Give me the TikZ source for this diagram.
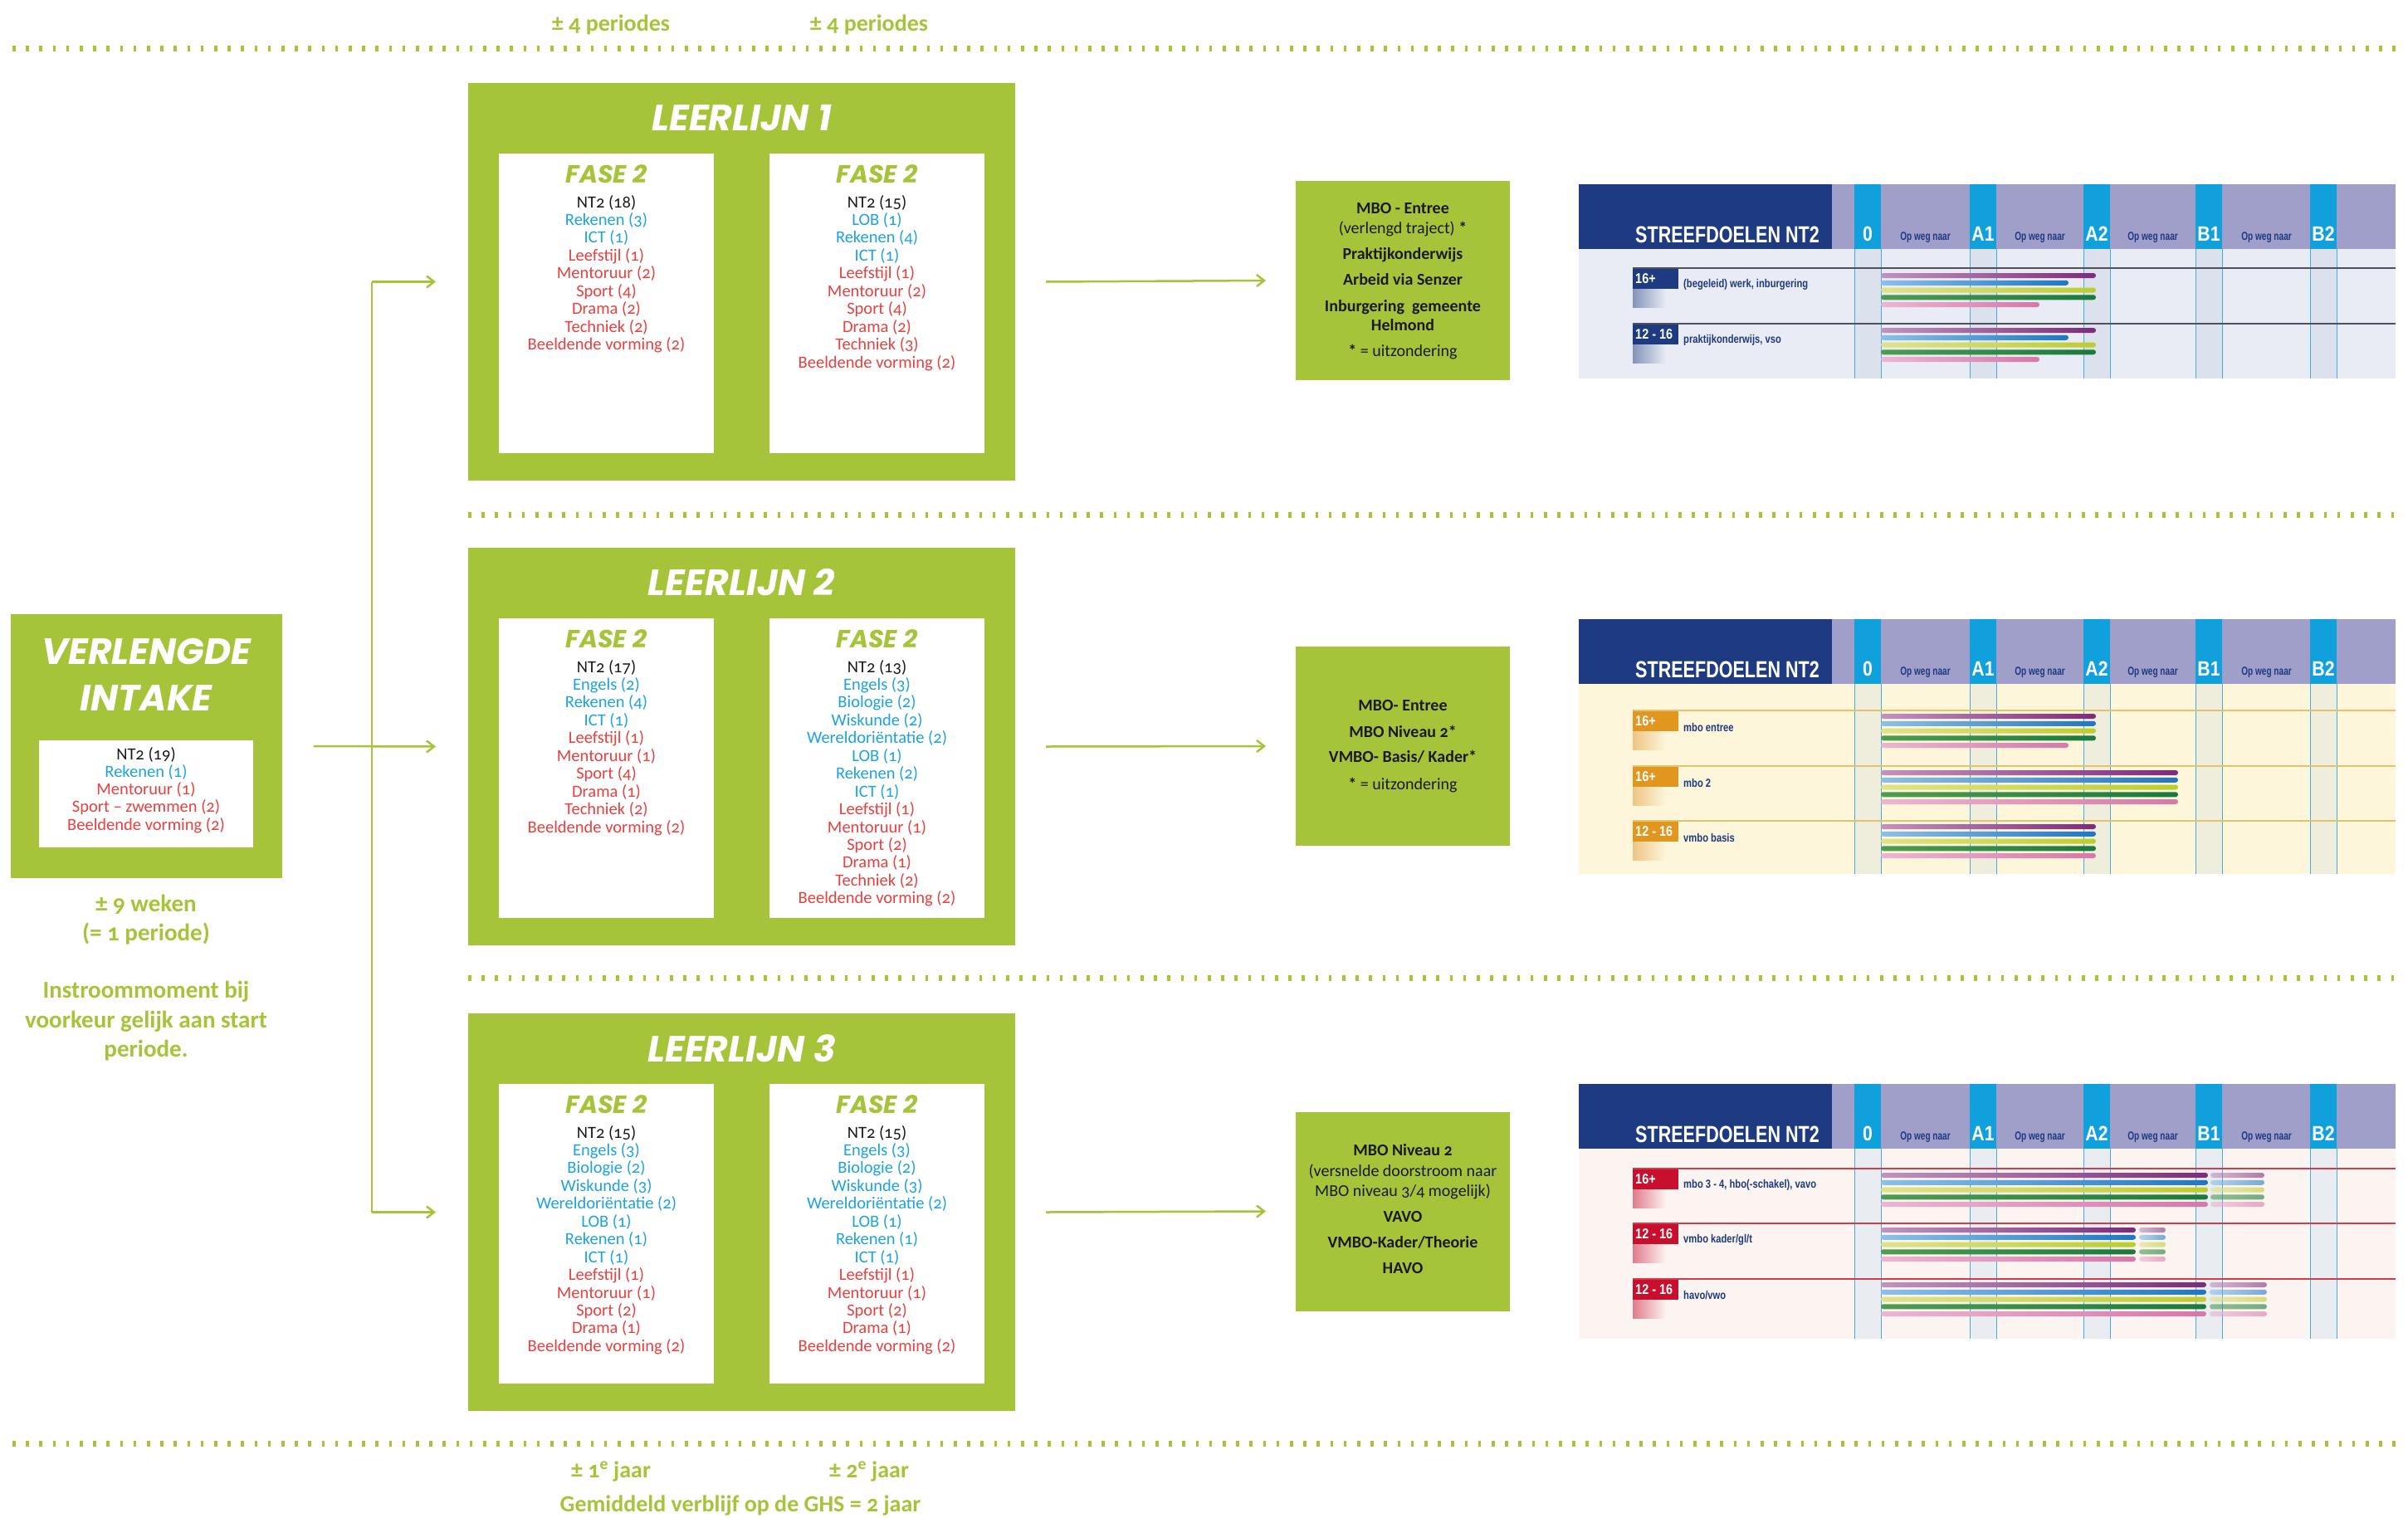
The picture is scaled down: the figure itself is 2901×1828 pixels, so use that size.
\documentclass[tikz,border=0pt]{standalone}
\usepackage{fontspec}
\usepackage{graphicx}
\setmainfont{Carlito}[Numbers=OldStyle]
\newfontfamily\titlefont{Poppins}
\newfontfamily\chartfont{Liberation Sans}
\usetikzlibrary{arrows.meta}
\definecolor{lgreen}{HTML}{A6C43A}
\definecolor{tblue}{HTML}{1DA3E0}
\definecolor{tred}{HTML}{E8413F}
\definecolor{tblack}{HTML}{1A1A1A}
\definecolor{navy}{HTML}{1E3A80}
\definecolor{lav}{HTML}{A09FCA}
\definecolor{sblue}{HTML}{10A0DC}
\definecolor{sline}{HTML}{4AAAD9}
\definecolor{body1}{HTML}{E9ECF4}
\definecolor{sb1}{HTML}{DCE2ED}
\definecolor{body2}{HTML}{FDF6DB}
\definecolor{sb2}{HTML}{EFEEDC}
\definecolor{body3}{HTML}{FCF4F0}
\definecolor{sb3}{HTML}{E9ECF0}
\definecolor{tag2}{HTML}{E0961F}
\definecolor{tag3}{HTML}{C8102E}
\definecolor{rl1}{HTML}{50505C}
\definecolor{rl2}{HTML}{E3C46E}
\definecolor{rl3}{HTML}{CF3C4A}
\definecolor{pAa}{HTML}{C193BE}\definecolor{pAb}{HTML}{7D2B7A}
\definecolor{pBa}{HTML}{8CC0E8}\definecolor{pBb}{HTML}{1F77C0}
\definecolor{pCa}{HTML}{E0E38A}\definecolor{pCb}{HTML}{BCCD2D}
\definecolor{pDa}{HTML}{4F9C50}\definecolor{pDb}{HTML}{1A7A3A}
\definecolor{pEa}{HTML}{EDB5D2}\definecolor{pEb}{HTML}{D678AA}
\newcommand\cond[2]{\scalebox{#1}[1]{#2}}
\newcommand\mklist[4]{%
  \foreach \c/\t [count=\i from 0] in {#4}{%
    \node[litem, text=\c] (#1-\i) at (#2, #3+21.45*\i) {\t};}}
\newcommand\oline[3]{\node[otext] (#1) at (1690,#2+6) {#3};}
\newcommand\chartframe[5]{%
  \node[fill=#4, inner sep=0, outer sep=0, minimum width=984pt, minimum height=#3pt, anchor=north west] (#1) at (1902,#2) {};
  \begin{scope}[shift={(1902,#2)}]
    \fill[lav] (305,0) rectangle (984,78);
    \fill[navy] (0,0) rectangle (305,78);
    \node[hdrtext] (#1-title) at (179,61) {\cond{0.77}{STREEFDOELEN NT2}};
    \foreach \sx/\lab [count=\k] in {332/0,471/A1,608/A2,743/B1,881/B2}{%
      \fill[sblue] (\sx,0) rectangle (\sx+32,78);
      \fill[#5] (\sx,78) rectangle (\sx+32,#3);
      \draw[sline] (\sx,78) -- (\sx,#3) (\sx+32,78) -- (\sx+32,#3);
      \node[stripelab] (#1-s\k) at (\sx+16,60) {\cond{0.85}{\lab}};}
    \foreach \ox [count=\k] in {417.5,555.5,691.5,828.5}{%
      \node[opweg] (#1-o\k) at (\ox,64) {\cond{0.72}{Op weg naar}};}
  \end{scope}}
\newcommand\chartrow[8]{%
  \begin{scope}[shift={(1902,#2)}]
    \draw[#5, line width=2.5pt] (65,#3) -- (984,#3);
    \shade[left color=#4!55, right color=#8] (65,#3+25) rectangle (105,#3+47);
    \node[fill=#4, inner sep=0, outer sep=0, minimum width=55pt, minimum height=24pt, anchor=north west] (#1) at (65,#3+1) {};
    \node[tagtext] (#1-t) at (68,#3+13) {\cond{0.85}{#6}};
    \node[rowlab] (#1-l) at (126,#3+20) {\cond{0.8}{#7}};
  \end{scope}}
\newcommand\barset[7]{%
  \begin{scope}[shift={(1902,#1)}]
    \shade[barA] (364,#2-3) rectangle (#3,#2+3);
    \shade[barB] (364,#2+5.75) rectangle (#4,#2+11.75);
    \shade[barC] (364,#2+14.5) rectangle (#5,#2+20.5);
    \shade[barD] (364,#2+23.25) rectangle (#6,#2+29.25);
    \shade[barE] (364,#2+32) rectangle (#7,#2+38);
  \end{scope}}
\newcommand\barsettwo[5]{%
  \barset{#1}{#2}{#3}{#3}{#3}{#3}{#3}
  \begin{scope}[shift={(1902,#1)}, opacity=0.6]
    \shade[barA] (#4,#2-3) rectangle (#5,#2+3);
    \shade[barB] (#4,#2+5.75) rectangle (#5,#2+11.75);
    \shade[barC] (#4,#2+14.5) rectangle (#5,#2+20.5);
    \shade[barD] (#4,#2+23.25) rectangle (#5,#2+29.25);
    \shade[barE] (#4,#2+32) rectangle (#5,#2+38);
  \end{scope}}
\begin{document}
\begin{tikzpicture}[x=1pt,y=-1pt,
  lbox/.style={fill=lgreen, minimum width=659pt, minimum height=479pt, inner sep=0, outer sep=0},
  wbox/.style={fill=white, minimum width=259pt, minimum height=361pt, inner sep=0, outer sep=0},
  obox/.style={fill=lgreen, minimum width=258pt, minimum height=240pt, inner sep=0, outer sep=0},
  ltitle/.style={font=\titlefont\bfseries\itshape\fontsize{44}{44}\selectfont, text=white, inner sep=0},
  ftitle/.style={font=\titlefont\bfseries\itshape\fontsize{30}{30}\selectfont, text=lgreen, inner sep=0},
  litem/.style={font=\fontsize{20.5}{21}\selectfont, inner sep=0, anchor=base},
  otext/.style={font=\bfseries\fontsize{20}{20}\selectfont, text=tblack, inner sep=0, anchor=base},
  gtext/.style={font=\bfseries\fontsize{29}{29}\selectfont, text=lgreen, inner sep=0, anchor=base},
  ltext/.style={font=\bfseries\fontsize{28}{28}\selectfont, text=lgreen, inner sep=0, anchor=base},
  hdrtext/.style={font=\chartfont\bfseries\fontsize{28}{28}\selectfont, text=white, inner sep=0},
  stripelab/.style={font=\chartfont\bfseries\fontsize{25}{25}\selectfont, text=white, inner sep=0},
  opweg/.style={font=\chartfont\bfseries\fontsize{14}{14}\selectfont, text=navy, inner sep=0},
  tagtext/.style={font=\chartfont\bfseries\fontsize{17}{17}\selectfont, text=white, inner sep=0, anchor=west},
  rowlab/.style={font=\chartfont\bfseries\fontsize{14}{14}\selectfont, text=navy, inner sep=0, anchor=west},
  dotline/.style={draw=lgreen, line width=7pt, dash pattern=on 3.5pt off 12.7pt},
  conn/.style={draw=lgreen, line width=2.5pt},
  arr/.style={conn, -{Straight Barb[length=9pt, width=14pt, line width=2.5pt]}},
  barA/.style={left color=pAa, right color=pAb, rounded corners=3pt},
  barB/.style={left color=pBa, right color=pBb, rounded corners=3pt},
  barC/.style={left color=pCa, right color=pCb, rounded corners=3pt},
  barD/.style={left color=pDa, right color=pDb, rounded corners=3pt},
  barE/.style={left color=pEa, right color=pEb, rounded corners=3pt}]
\useasboundingbox (0,0) rectangle (2901,1828);
\fill[white] (0,0) rectangle (2901,1828);

% dotted separators
\draw[dotline] (15,59) -- (2886,59);
\draw[dotline] (564,620) -- (2886,620);
\draw[dotline] (564,1178) -- (2886,1178);
\draw[dotline] (15,1739) -- (2886,1739);

% top and bottom labels
\node[ltext] (p1) at (736,38) {± 4 periodes};
\node[ltext] (p2) at (1047,38) {± 4 periodes};
\node[ltext] (j1) at (736,1780) {± 1\textsuperscript{e} jaar};
\node[ltext] (j2) at (1047,1780) {± 2\textsuperscript{e} jaar};
\node[ltext] (gem) at (892,1821) {Gemiddeld verblijf op de GHS = 2 jaar};

% verlengde intake
\node[fill=lgreen, minimum width=327pt, minimum height=318pt, inner sep=0, outer sep=0] (intake) at (176,899) {};
\node[ltitle] (intt1) at (176,785) {VERLENGDE};
\node[ltitle] (intt2) at (176,841) {INTAKE};
\node[fill=white, minimum width=258pt, minimum height=129pt, inner sep=0, outer sep=0] (intakew) at (176,956.5) {};
\foreach \c/\t [count=\i from 0] in {tblack/NT2 (19), tblue/Rekenen (1), tred/Mentoruur (1), tred/Sport – zwemmen (2), tred/Beeldende vorming (2)}{%
  \node[litem, text=\c] (intl-\i) at (176, 915+21.3*\i) {\t};}
\node[gtext] (wk1) at (176,1098) {± 9 weken};
\node[gtext] (wk2) at (176,1133) {(= 1 periode)};
\node[gtext] (ins1) at (176,1202) {Instroommoment bij};
\node[gtext] (ins2) at (176,1238) {voorkeur gelijk aan start};
\node[gtext] (ins3) at (176,1273) {periode.};

% leerlijn 1
\node[lbox] (ll1) at (893.5,339.5) {};
\node[ltitle] (ll1t) at (893.5,142) {LEERLIJN 1};
\node[wbox] (ll1a) at (730.5,365.5) {};
\node[wbox] (ll1b) at (1056.5,365.5) {};
\node[ftitle] (ll1af) at (730.5,210) {FASE 2};
\node[ftitle] (ll1bf) at (1056.5,210) {FASE 2};
\mklist{ll1al}{730.5}{250}{tblack/NT2 (18), tblue/Rekenen (3), tblue/ICT (1), tred/Leefstijl (1), tred/Mentoruur (2), tred/Sport (4), tred/Drama (2), tred/Techniek (2), tred/Beeldende vorming (2)}
\mklist{ll1bl}{1056.5}{250}{tblack/NT2 (15), tblue/LOB (1), tblue/Rekenen (4), tblue/ICT (1), tred/Leefstijl (1), tred/Mentoruur (2), tred/Sport (4), tred/Drama (2), tred/Techniek (3), tred/Beeldende vorming (2)}

% leerlijn 2
\node[lbox] (ll2) at (893.5,899.5) {};
\node[ltitle] (ll2t) at (893.5,702) {LEERLIJN 2};
\node[wbox] (ll2a) at (730.5,925.5) {};
\node[wbox] (ll2b) at (1056.5,925.5) {};
\node[ftitle] (ll2af) at (730.5,770) {FASE 2};
\node[ftitle] (ll2bf) at (1056.5,770) {FASE 2};
\mklist{ll2al}{730.5}{810}{tblack/NT2 (17), tblue/Engels (2), tblue/Rekenen (4), tblue/ICT (1), tred/Leefstijl (1), tred/Mentoruur (1), tred/Sport (4), tred/Drama (1), tred/Techniek (2), tred/Beeldende vorming (2)}
\mklist{ll2bl}{1056.5}{810}{tblack/NT2 (13), tblue/Engels (3), tblue/Biologie (2), tblue/Wiskunde (2), tblue/Wereldoriëntatie (2), tblue/LOB (1), tblue/Rekenen (2), tblue/ICT (1), tred/Leefstijl (1), tred/Mentoruur (1), tred/Sport (2), tred/Drama (1), tred/Techniek (2), tred/Beeldende vorming (2)}

% leerlijn 3
\node[lbox] (ll3) at (893.5,1460.5) {};
\node[ltitle] (ll3t) at (893.5,1263) {LEERLIJN 3};
\node[wbox] (ll3a) at (730.5,1486.5) {};
\node[wbox] (ll3b) at (1056.5,1486.5) {};
\node[ftitle] (ll3af) at (730.5,1331) {FASE 2};
\node[ftitle] (ll3bf) at (1056.5,1331) {FASE 2};
\mklist{ll3al}{730.5}{1371}{tblack/NT2 (15), tblue/Engels (3), tblue/Biologie (2), tblue/Wiskunde (3), tblue/Wereldoriëntatie (2), tblue/LOB (1), tblue/Rekenen (1), tblue/ICT (1), tred/Leefstijl (1), tred/Mentoruur (1), tred/Sport (2), tred/Drama (1), tred/Beeldende vorming (2)}
\mklist{ll3bl}{1056.5}{1371}{tblack/NT2 (15), tblue/Engels (3), tblue/Biologie (2), tblue/Wiskunde (3), tblue/Wereldoriëntatie (2), tblue/LOB (1), tblue/Rekenen (1), tblue/ICT (1), tred/Leefstijl (1), tred/Mentoruur (1), tred/Sport (2), tred/Drama (1), tred/Beeldende vorming (2)}

% output boxes
\node[obox] (out1) at (1690,338) {};
\oline{o1a}{251}{MBO - Entree}
\oline{o1b}{275}{\mdseries (verlengd traject) \bfseries *}
\oline{o1c}{306}{Praktijkonderwijs}
\oline{o1d}{337}{Arbeid via Senzer}
\oline{o1e}{369}{Inburgering\ \ gemeente}
\oline{o1f}{392}{Helmond}
\oline{o1g}{423}{* \mdseries = uitzondering}
\node[obox] (out2) at (1690,899) {};
\oline{o2a}{850}{MBO- Entree}
\oline{o2b}{882}{MBO Niveau 2*}
\oline{o2c}{912}{VMBO- Basis/ Kader*}
\oline{o2d}{945}{* \mdseries = uitzondering}
\node[obox] (out3) at (1690,1459.5) {};
\oline{o3a}{1386}{MBO Niveau 2}
\oline{o3b}{1411}{\mdseries (versnelde doorstroom naar}
\oline{o3c}{1435}{\mdseries MBO niveau 3/4 mogelijk)}
\oline{o3d}{1466}{VAVO}
\oline{o3e}{1497}{VMBO-Kader/Theorie}
\oline{o3f}{1528}{HAVO}

% connectors
\coordinate (trunkTop) at (448,339.5);
\coordinate (trunkBot) at (448,1460.5);
\draw[conn] (trunkTop) -- (trunkBot);
\draw[arr] (trunkTop) -- ([xshift=-39pt]ll1.west);
\draw[arr] (trunkBot) -- ([xshift=-39pt]ll3.west);
\draw[arr] ([xshift=38pt]intake.east) -- ([xshift=-39pt]ll2.west);
\draw[arr] ([xshift=37pt]ll1.east) -- ([xshift=-36pt]out1.west);
\draw[arr] ([xshift=37pt]ll2.east) -- ([xshift=-36pt]out2.west);
\draw[arr] ([xshift=37pt]ll3.east) -- ([xshift=-36pt]out3.west);

% streefdoelen chart 1
\chartframe{c1}{222}{234}{body1}{sb1}
\chartrow{c1r1}{222}{101}{navy}{rl1}{16+}{(begeleid) werk, inburgering}{body1}
\barset{222}{110}{623}{590}{623}{623}{555}
\chartrow{c1r2}{222}{168}{navy}{rl1}{12 - 16}{praktijkonderwijs, vso}{body1}
\barset{222}{176}{623}{590}{623}{623}{555}

% streefdoelen chart 2
\chartframe{c2}{746}{307}{body2}{sb2}
\chartrow{c2r1}{746}{110}{tag2}{rl2}{16+}{mbo entree}{body2}
\barset{746}{117}{623}{623}{623}{623}{590}
\chartrow{c2r2}{746}{177}{tag2}{rl2}{16+}{mbo 2}{body2}
\barset{746}{185}{722}{722}{722}{722}{722}
\chartrow{c2r3}{746}{243}{tag2}{rl2}{12 - 16}{vmbo basis}{body2}
\barset{746}{250}{623}{623}{623}{623}{623}

% streefdoelen chart 3
\chartframe{c3}{1306}{307}{body3}{sb3}
\chartrow{c3r1}{1306}{102}{tag3}{rl3}{16+}{mbo 3 - 4, hbo(-schakel), vavo}{body3}
\barsettwo{1306}{110}{758}{761}{826}
\chartrow{c3r2}{1306}{168}{tag3}{rl3}{12 - 16}{vmbo kader/gl/t}{body3}
\barsettwo{1306}{176}{671}{675}{707}
\chartrow{c3r3}{1306}{235}{tag3}{rl3}{12 - 16}{havo/vwo}{body3}
\barsettwo{1306}{242}{756}{760}{829}
\end{tikzpicture}
\end{document}
